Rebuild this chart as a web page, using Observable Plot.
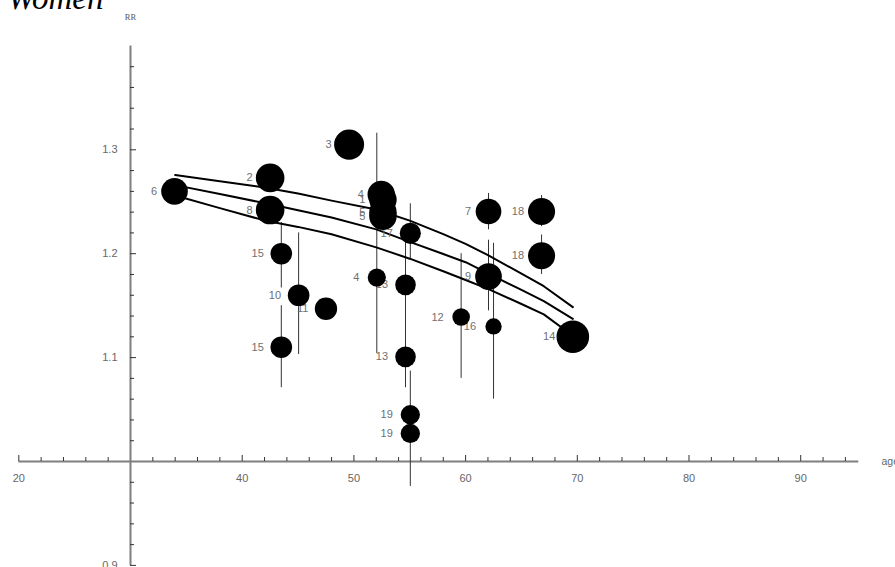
<!DOCTYPE html>
<html>
<head>
<meta charset="utf-8">
<script src="https://cdn.jsdelivr.net/npm/d3@7"></script>
<script src="https://cdn.jsdelivr.net/npm/@observablehq/plot@0.6"></script>
<style>
  html, body { margin: 0; padding: 0; background: #fff; }
  #chart { width: 895px; height: 567px; overflow: hidden; }
</style>
</head>
<body>
<div id="chart"></div>
<script>
// ---- Study estimates: relative risk (RR) against mean age at exposure ----
const studyLabels = ["6", "2", "8", "3", "4", "1", "5", "5", "17", "15", "4", "13", "10", "11", "7", "18", "18", "9", "12", "16", "14", "15", "13", "19", "19"];
const studyAges   = [33.94, 42.5, 42.5, 49.57, 52.45, 52.6, 52.6, 52.6, 55.05, 43.5, 52.05, 54.62, 45.05, 47.5, 62.05, 66.8, 66.8, 62.05, 59.6, 62.5, 69.6, 43.5, 54.62, 55.05, 55.05];
const studyRR     = [1.260, 1.273, 1.242, 1.305, 1.257, 1.252, 1.240, 1.236, 1.2196, 1.200, 1.177, 1.170, 1.160, 1.147, 1.2406, 1.2406, 1.198, 1.178, 1.139, 1.130, 1.120, 1.110, 1.1007, 1.045, 1.027];
const studyWeight = [67, 77, 77, 85, 71, 71, 71, 71, 42, 44, 31, 40, 44, 47, 62, 69, 69, 67, 29, 25, 100, 44, 40, 35, 35];
const ciLow       = [null, null, null, null, null, null, null, null, 1.195, 1.167, 1.104, 1.128, 1.103, null, 1.223, 1.226, 1.180, 1.145, 1.080, 1.060, null, 1.071, 1.071, 0.976, null];
const ciHigh      = [null, null, null, null, null, null, null, null, 1.248, 1.230, 1.316, 1.212, 1.220, null, 1.258, 1.256, 1.218, 1.213, 1.200, 1.210, null, 1.150, 1.130, 1.087, null];

// ---- Fitted trend of RR with age, with its upper and lower band ----
const curveAges  = [34, 38, 42, 45, 48, 52, 55, 58, 60, 62, 65, 67, 69.6];
const curveUpper = [1.2757, 1.2697, 1.2637, 1.2579, 1.2511, 1.2425, 1.2318, 1.2189, 1.2094, 1.1987, 1.1808, 1.1687, 1.1486];
const curveMid   = [1.2660, 1.2574, 1.2487, 1.2418, 1.2348, 1.2234, 1.2114, 1.1997, 1.1918, 1.1811, 1.1651, 1.1544, 1.1373];
const curveLower = [1.2560, 1.2439, 1.2320, 1.2258, 1.2187, 1.2061, 1.1952, 1.1831, 1.1747, 1.1662, 1.1516, 1.1416, 1.1210];

// ---- Axes: crossing at age 30, RR 1.0 ----
const xTickValues = [20, 40, 50, 60, 70, 80, 90];
const xTickLabels = ["20", "40", "50", "60", "70", "80", "90"];
const yTickValues = [0.9, 1.1, 1.2, 1.3];
const yTickLabels = ["0.9", "1.1", "1.2", "1.3"];
const titleText = "Women";
const xAxisName = "age";
const yAxisName = "RR";

// ---- Layout ----
const W = 895, H = 567;
const xDomain = [20, 95.2], yDomain = [0.9, 1.4];
const mL = 18.3, mR = 36.7, mT = 45.4, mB = 2.1;
const originX = 30, originY = 1.0;
const pxPerX = (W - mL - mR) / (xDomain[1] - xDomain[0]);
const pxPerY = (H - mT - mB) / (yDomain[1] - yDomain[0]);

const studies = studyLabels.map((label, i) => ({
  label, age: studyAges[i], rr: studyRR[i], weight: studyWeight[i], lo: ciLow[i], hi: ciHigh[i]
}));
const withCI = studies.filter(d => d.lo != null && d.hi != null);

const curves = [curveUpper, curveMid, curveLower].map(vals =>
  curveAges.map((a, i) => ({age: a, rr: vals[i]}))
);

// minor ticks every 2 years / every 0.02 RR
const xMinor = d3.range(22, 95, 2).filter(v => v % 10 !== 0);
const xMajor = xTickValues;
const yMinor = d3.range(46, 70).filter(i => i % 5 !== 0).map(i => i / 50);
const yMajor = yTickValues;

const axisColor = "#7f7f7f";
const labelColor = "#666";
const majorLen = 6, minorLen = 4;

const marks = [
  // axis lines
  Plot.ruleY([originY], {x1: xDomain[0], x2: xDomain[1], stroke: axisColor, strokeWidth: 2}),
  Plot.ruleX([originX], {y1: yDomain[0], y2: yDomain[1], stroke: axisColor, strokeWidth: 2}),
  // x ticks (pointing up)
  Plot.ruleX(xMinor, {x: d => d, y1: originY, y2: originY + minorLen / pxPerY, stroke: "#333", strokeWidth: 1}),
  Plot.ruleX(xMajor, {x: d => d, y1: originY, y2: originY + majorLen / pxPerY, stroke: "#333", strokeWidth: 1}),
  // y ticks (pointing right)
  Plot.ruleY(yMinor, {y: d => d, x1: originX, x2: originX + minorLen / pxPerX, stroke: "#333", strokeWidth: 1}),
  Plot.ruleY(yMajor, {y: d => d, x1: originX, x2: originX + majorLen / pxPerX, stroke: "#333", strokeWidth: 1}),
  // tick labels
  Plot.text(xTickValues, {x: d => d, y: originY, text: (d, i) => xTickLabels[i], dy: 16.7, fill: labelColor, fontSize: 11}),
  Plot.text(yTickValues, {x: originX, y: d => d, text: (d, i) => yTickLabels[i], dx: -13, textAnchor: "end", fill: labelColor, fontSize: 11}),
  // axis names
  Plot.text([xAxisName], {x: xDomain[1], y: originY, text: d => d, dx: 22.7, textAnchor: "start", fill: labelColor, fontSize: 10.5}),
  Plot.text([yAxisName], {x: originX, y: yDomain[1], text: d => d, dy: -28.7, fill: "#555", fontSize: 8.5, fontFamily: "Liberation Serif"}),
  // title
  Plot.text([titleText], {frameAnchor: "top-left", text: d => d, dx: -11.3, dy: -36.6, lineAnchor: "bottom", textAnchor: "start",
    fontSize: 33, fontStyle: "italic", fontFamily: "Liberation Serif", fill: "#000"}),
  // confidence intervals
  Plot.ruleX(withCI, {x: "age", y1: "lo", y2: "hi", stroke: "#333", strokeWidth: 1}),
  // fitted curves
  ...curves.map(c => Plot.line(c, {x: "age", y: "rr", stroke: "#000", strokeWidth: 2})),
  // study labels (under the markers)
  Plot.text(studies, {x: "age", y: "rr", text: "label", dx: -17.5, textAnchor: "end", fill: "#707070", fontSize: 11}),
  // study markers sized by weight
  Plot.dot(studies, {x: "age", y: "rr", r: "weight", fill: "#000", stroke: "none"})
];

const chart = Plot.plot({
  width: W,
  height: H,
  marginLeft: mL,
  marginRight: mR,
  marginTop: mT,
  marginBottom: mB,
  axis: null,
  x: {domain: xDomain},
  y: {domain: yDomain},
  r: {type: "sqrt", domain: [0, 100], range: [0, 16.3]},
  style: {background: "#fff", fontFamily: "'Liberation Sans', Arial, sans-serif", fontSize: "11px", overflow: "visible"},
  marks
});
document.getElementById("chart").appendChild(chart);
</script>
</body>
</html>
